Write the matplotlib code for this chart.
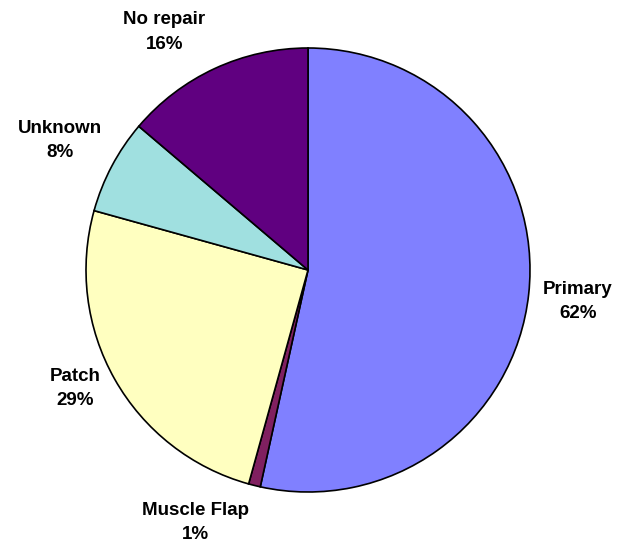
import matplotlib.pyplot as plt

plt.rcParams['font.family'] = ['Liberation Sans', 'DejaVu Sans']

categories = ['Primary', 'Muscle Flap', 'Patch', 'Unknown', 'No repair']
percents = [62, 1, 29, 8, 16]
colors = ['#8080FF', '#802060', '#FFFFC0', '#A0E0E0', '#600080']

# label centres in data units (pie radius = 1)
label_xy = [(1.216, -0.140), (-0.509, -1.136), (-1.050, -0.535),
            (-1.117, 0.582), (-0.648, 1.072)]

W, H = 619, 546
CX, CY, R = 308, 270, 222

fig = plt.figure(figsize=(W / 100, H / 100), dpi=100)
ax = fig.add_axes([0, 0, 1, 1])
ax.pie(percents, colors=colors, startangle=90, counterclock=False,
       radius=1, wedgeprops=dict(edgecolor='black', linewidth=1.2))
for name, pct, (x, y) in zip(categories, percents, label_xy):
    ax.text(x, y, '%s\n%d%%' % (name, pct), ha='center', va='center',
            fontsize=13.5, fontweight='bold', linespacing=1.55)

ax.set_xlim(-CX / R, (W - CX) / R)
ax.set_ylim(-(H - CY) / R, CY / R)
ax.set_aspect('equal')
ax.axis('off')
fig.savefig('out.png', dpi=100)
